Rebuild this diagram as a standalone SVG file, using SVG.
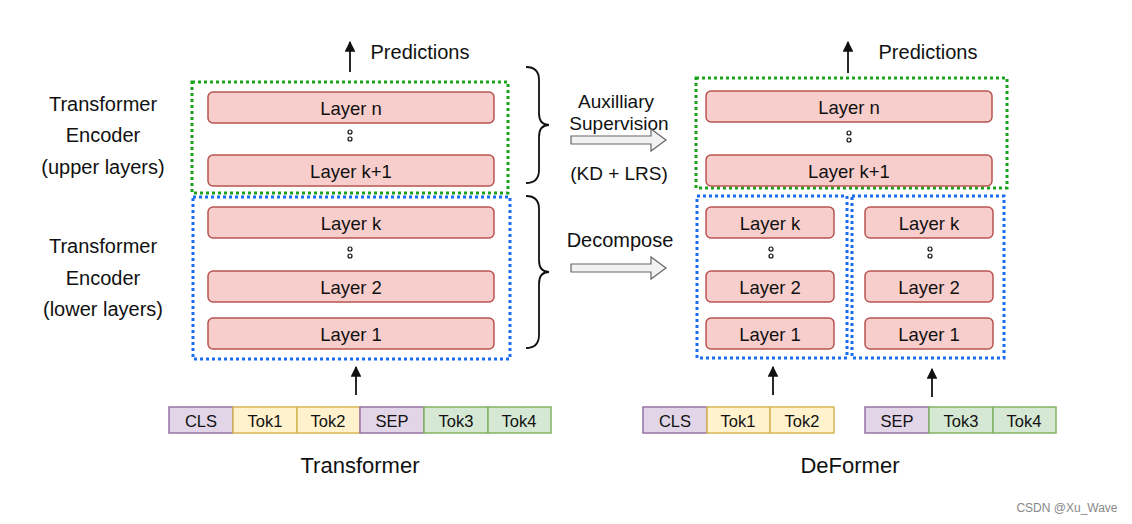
<svg xmlns="http://www.w3.org/2000/svg" width="1132" height="524" viewBox="0 0 1132 524">
<style>
text{font-family:"Liberation Sans",Arial,sans-serif;fill:#111;text-anchor:middle;dominant-baseline:central}
.layer{fill:#f8cecc;stroke:#b85450;stroke-width:1.5}
.lt{font-size:18.5px}
.lbl{font-size:20px}
.mid{font-size:19px}
.tok{font-size:16.5px}
.cls{fill:#e1d5e7;stroke:#9673a6;stroke-width:1.5}
.yel{fill:#fff2cc;stroke:#d6b656;stroke-width:1.5}
.grn{fill:#d5e8d4;stroke:#82b366;stroke-width:1.5}
.gbox{fill:none;stroke:#1aa31a;stroke-width:3;stroke-dasharray:3 3}
.bbox{fill:none;stroke:#1a6cf0;stroke-width:3;stroke-dasharray:3 3}
.dot{fill:none;stroke:#111;stroke-width:1.2}
.line{stroke:#111;stroke-width:1.8;fill:none}
.brace{stroke:#111;stroke-width:1.8;fill:none}
.hollow{fill:#f2f2f2;stroke:#666;stroke-width:1.2}
</style>
<defs>
<marker id="ah" viewBox="0 0 10 10" refX="9" refY="5" markerWidth="6" markerHeight="6" orient="auto"><path d="M0,0 L10,5 L0,10 z" fill="#111"/></marker>
</defs>

<g id="labels">
<text class="lbl" x="103" y="104">Transformer</text>
<text class="lbl" x="103" y="135">Encoder</text>
<text class="lbl" x="103" y="167">(upper layers)</text>
<text class="lbl" x="103" y="246">Transformer</text>
<text class="lbl" x="103" y="278">Encoder</text>
<text class="lbl" x="103" y="309">(lower layers)</text>
<text class="lbl" x="420" y="52">Predictions</text>
<text class="lbl" x="928" y="52">Predictions</text>
<text class="mid" x="616" y="101">Auxilliary</text>
<text class="mid" x="619" y="123">Supervision</text>
<text class="mid" x="619" y="173">(KD + LRS)</text>
<text x="620" y="240" style="font-size:20px">Decompose</text>
<text x="360" y="465" style="font-size:22px">Transformer</text>
<text x="850" y="465" style="font-size:22px">DeFormer</text>
<text x="1067" y="508" style="font-size:12px;fill:#888">CSDN @Xu_Wave</text>
</g>

<g id="left-upper">
<rect class="gbox" x="192" y="82" width="316" height="111"/>
<rect class="layer" x="208" y="92" width="286" height="31" rx="5"/>
<text class="lt" x="351" y="108">Layer n</text>
<circle class="dot" cx="350" cy="132" r="2"/><circle class="dot" cx="350" cy="139" r="2"/>
<rect class="layer" x="208" y="155" width="286" height="31" rx="5"/>
<text class="lt" x="351" y="171">Layer k+1</text>
</g>
<g id="left-lower">
<rect class="bbox" x="193" y="197" width="317" height="162"/>
<rect class="layer" x="208" y="207" width="286" height="31" rx="5"/>
<text class="lt" x="351" y="223">Layer k</text>
<circle class="dot" cx="350" cy="249" r="2"/><circle class="dot" cx="350" cy="256" r="2"/>
<rect class="layer" x="208" y="271" width="286" height="31" rx="5"/>
<text class="lt" x="351" y="287">Layer 2</text>
<rect class="layer" x="208" y="318" width="286" height="31" rx="5"/>
<text class="lt" x="351" y="334">Layer 1</text>
</g>
<g id="left-tokens">
<rect class="cls" x="169" y="407" width="64" height="26"/><text class="tok" x="201" y="421">CLS</text>
<rect class="yel" x="233" y="407" width="64" height="26"/><text class="tok" x="265" y="421">Tok1</text>
<rect class="yel" x="297" y="407" width="63" height="26"/><text class="tok" x="328" y="421">Tok2</text>
<rect class="cls" x="360" y="407" width="64" height="26"/><text class="tok" x="392" y="421">SEP</text>
<rect class="grn" x="424" y="407" width="64" height="26"/><text class="tok" x="456" y="421">Tok3</text>
<rect class="grn" x="488" y="407" width="63" height="26"/><text class="tok" x="519" y="421">Tok4</text>
</g>

<g id="right-upper">
<rect class="gbox" x="696" y="78" width="311" height="110"/>
<rect class="layer" x="706" y="91" width="286" height="31" rx="5"/>
<text class="lt" x="849" y="107">Layer n</text>
<circle class="dot" cx="849" cy="133" r="2"/><circle class="dot" cx="849" cy="140" r="2"/>
<rect class="layer" x="706" y="155" width="286" height="31" rx="5"/>
<text class="lt" x="849" y="171">Layer k+1</text>
</g>
<g id="right-lower-a">
<rect class="bbox" x="697" y="196" width="150" height="162"/>
<rect class="layer" x="706" y="207" width="128" height="31" rx="5"/>
<text class="lt" x="770" y="223">Layer k</text>
<circle class="dot" cx="771" cy="249" r="2"/><circle class="dot" cx="771" cy="256" r="2"/>
<rect class="layer" x="706" y="271" width="128" height="31" rx="5"/>
<text class="lt" x="770" y="287">Layer 2</text>
<rect class="layer" x="706" y="318" width="128" height="31" rx="5"/>
<text class="lt" x="770" y="334">Layer 1</text>
</g>
<g id="right-lower-b">
<rect class="bbox" x="852" y="196" width="152" height="162"/>
<rect class="layer" x="865" y="207" width="128" height="31" rx="5"/>
<text class="lt" x="929" y="223">Layer k</text>
<circle class="dot" cx="930" cy="249" r="2"/><circle class="dot" cx="930" cy="256" r="2"/>
<rect class="layer" x="865" y="271" width="128" height="31" rx="5"/>
<text class="lt" x="929" y="287">Layer 2</text>
<rect class="layer" x="865" y="318" width="128" height="31" rx="5"/>
<text class="lt" x="929" y="334">Layer 1</text>
</g>
<g id="right-tokens-a">
<rect class="cls" x="643" y="407" width="64" height="26"/><text class="tok" x="675" y="421">CLS</text>
<rect class="yel" x="707" y="407" width="63" height="26"/><text class="tok" x="738" y="421">Tok1</text>
<rect class="yel" x="770" y="407" width="64" height="26"/><text class="tok" x="802" y="421">Tok2</text>
</g>
<g id="right-tokens-b">
<rect class="cls" x="865" y="407" width="64" height="26"/><text class="tok" x="897" y="421">SEP</text>
<rect class="grn" x="929" y="407" width="64" height="26"/><text class="tok" x="961" y="421">Tok3</text>
<rect class="grn" x="993" y="407" width="63" height="26"/><text class="tok" x="1024" y="421">Tok4</text>
</g>

<g id="connectors">
<line class="line" x1="350" y1="72" x2="350" y2="42" marker-end="url(#ah)"/>
<line class="line" x1="848" y1="73" x2="848" y2="42" marker-end="url(#ah)"/>
<line class="line" x1="356" y1="395" x2="356" y2="367" marker-end="url(#ah)"/>
<line class="line" x1="773" y1="395" x2="773" y2="367" marker-end="url(#ah)"/>
<line class="line" x1="932" y1="397" x2="932" y2="369" marker-end="url(#ah)"/>
<path class="brace" d="M526,67 Q539,67 539,80 L539,113 Q539,125 549,125 Q539,125 539,137 L539,170 Q539,183 526,183"/>
<path class="brace" d="M526,196 Q539,196 539,209 L539,260 Q539,272 549,272 Q539,272 539,284 L539,335 Q539,348 526,348"/>
<path class="hollow" d="M571,136 L651,136 L651,129 L666,140 L651,151 L651,144 L571,144 Z"/>
<path class="hollow" d="M571,264 L651,264 L651,257 L666,268 L651,279 L651,272 L571,272 Z"/>
</g>
</svg>
